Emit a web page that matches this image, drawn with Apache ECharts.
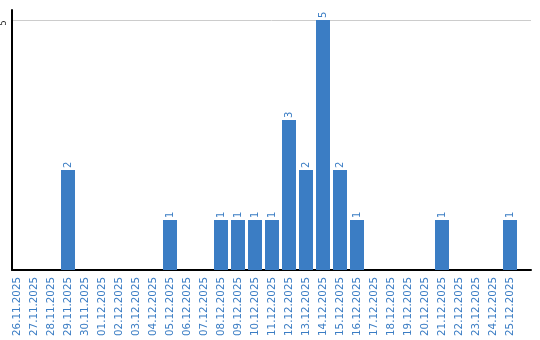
<!DOCTYPE html>
<html><head><meta charset="utf-8">
<script src="https://cdn.jsdelivr.net/npm/echarts@6/dist/echarts.min.js"></script>
<style>html,body{margin:0;padding:0;background:#fff}#c{width:540px;height:340px}</style>
</head><body><div id="c"></div>
<script>
const categories = ["26.11.2025","27.11.2025","28.11.2025","29.11.2025","30.11.2025","01.12.2025","02.12.2025","03.12.2025","04.12.2025","05.12.2025","06.12.2025","07.12.2025","08.12.2025","09.12.2025","10.12.2025","11.12.2025","12.12.2025","13.12.2025","14.12.2025","15.12.2025","16.12.2025","17.12.2025","18.12.2025","19.12.2025","20.12.2025","21.12.2025","22.12.2025","23.12.2025","24.12.2025","25.12.2025"];
const values = [0,0,0,2,0,0,0,0,0,1,0,0,1,1,1,1,3,2,5,2,1,0,0,0,0,1,0,0,0,1];
const yTicks = [5];

const blue = '#3b7dc4';
const font = 'DejaVu Sans';
const chart = echarts.init(document.getElementById('c'), null, {renderer:'canvas'});
chart.setOption({
  animation: false,
  grid: [
    {left: 11, right: 9, top: 10, bottom: 70},
    {left: 8.5, right: 21.5, top: 10, bottom: 70}
  ],
  xAxis: [
    {gridIndex: 0, type: 'value', min: 0, max: 1,
     axisLine: {show: true, lineStyle: {color: '#000', width: 2}},
     axisTick: {show: false}, axisLabel: {show: false}, splitLine: {show: false}},
    {gridIndex: 1, type: 'category', data: categories,
     axisLine: {show: false}, axisTick: {show: false},
     axisLabel: {interval: 0, rotate: 90, color: blue, fontFamily: font, fontSize: 10.3, margin: 7}}
  ],
  yAxis: [
    {gridIndex: 0, type: 'value', min: 0, max: 5.2, interval: 5,
     axisLine: {show: true, lineStyle: {color: '#000', width: 2}},
     axisTick: {show: false},
     splitLine: {show: true, showMinLine: false, showMaxLine: false, lineStyle: {color: '#cccccc', width: 1}},
     axisLabel: {rotate: 90, margin: 4, color: '#222', fontFamily: font, fontSize: 8,
       align: 'center', padding: [0, 6, 0, 0],
       showMaxLabel: false, showMinLabel: false,
       formatter: v => yTicks.includes(v) ? String(v) : ''}},
    {gridIndex: 1, type: 'value', min: 0, max: 5.2, show: false}
  ],
  series: [{
    type: 'bar', xAxisIndex: 1, yAxisIndex: 1, data: values,
    barWidth: 14,
    itemStyle: {color: blue},
    label: {show: true, position: 'top', rotate: 90, align: 'left', verticalAlign: 'middle',
      distance: 2, color: blue, fontFamily: font, fontSize: 10,
      formatter: p => p.value ? String(p.value) : ''}
  }]
});
</script></body></html>
